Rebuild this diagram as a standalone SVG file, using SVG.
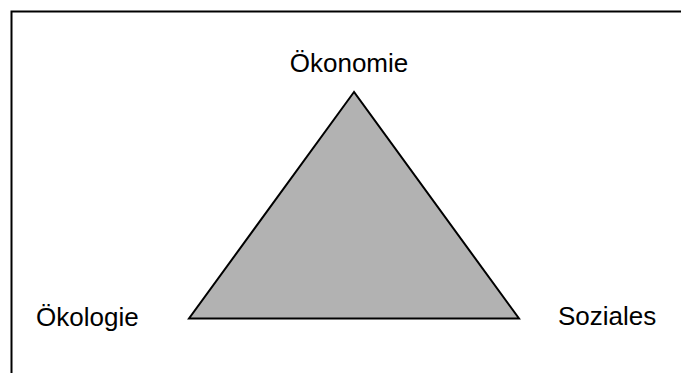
<svg xmlns="http://www.w3.org/2000/svg" width="681" height="373" viewBox="0 0 681 373">
<style>
.lbl{font-family:"Liberation Sans",Arial,sans-serif;font-size:26px;fill:#000}
</style>
<rect width="681" height="373" fill="#fff"/>
<g id="frame"><rect x="11.5" y="11.5" width="680" height="380" fill="none" stroke="#000" stroke-width="2"/></g>
<g id="triangle"><polygon points="354,92 189,318.5 519,318.5" fill="#b2b2b2" stroke="#000" stroke-width="2" stroke-linejoin="miter"/></g>
<g id="oekonomie"><text class="lbl" x="349" y="72" text-anchor="middle">Ökonomie</text></g>
<g id="oekologie"><text class="lbl" x="36" y="326">Ökologie</text></g>
<g id="soziales"><text class="lbl" x="558" y="325">Soziales</text></g>
<g id="connectors"></g>
</svg>
